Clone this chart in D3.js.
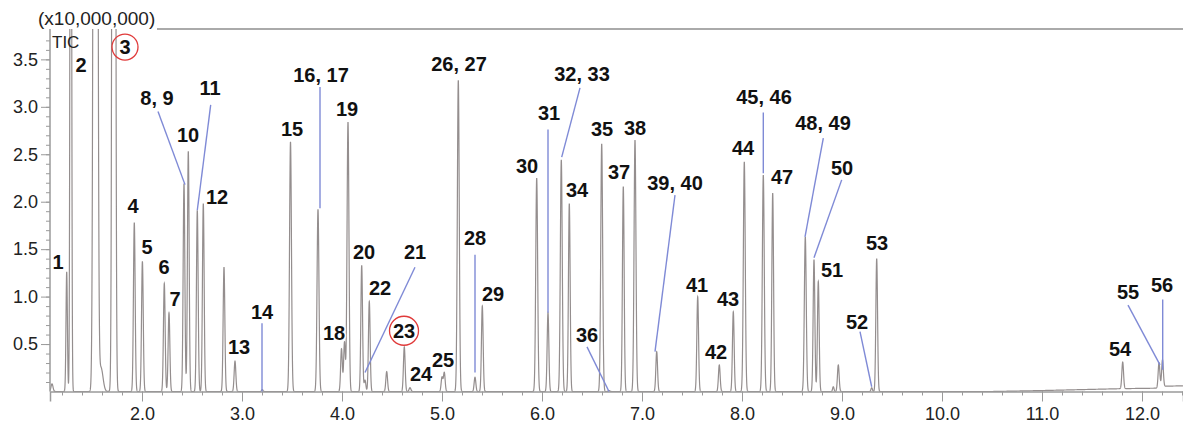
<!DOCTYPE html>
<html>
<head>
<meta charset="utf-8">
<script src="https://cdn.jsdelivr.net/npm/d3@7"></script>
<style>
  body { margin: 0; background: #fff; }
  svg { display: block; font-family: "Liberation Sans", Arial, sans-serif; }
</style>
</head>
<body>
<svg id="chart" width="1183" height="430"></svg>
<script>
// Peaks: retention time (min), height (x10,000,000), width (sigma, min)
const peakTimes = [1.10, 1.247, 1.288, 1.535, 1.59, 1.718, 1.923, 2.004, 2.223, 2.270,
    2.42, 2.463, 2.553, 2.613, 2.82, 2.93, 3.203, 3.485, 3.76, 3.995,
    4.025, 4.06, 4.197, 4.23, 4.273, 4.447, 4.623, 4.68, 5.00, 5.023,
    5.163, 5.33, 5.403, 5.947, 6.06, 6.193, 6.273, 6.597, 6.67, 6.813,
    6.93, 7.147, 7.557, 7.773, 7.913, 8.023, 8.213, 8.307, 8.633, 8.72,
    8.763, 8.913, 8.963, 9.297, 9.347, 11.807, 12.17, 12.205];
const peakHeights = [0.08, 1.26, 10, 30, 0.25, 30, 1.78, 1.37, 1.14, 0.83,
    2.19, 2.53, 1.91, 1.98, 1.31, 0.32, 0.02, 2.63, 1.92, 0.45,
    0.52, 2.84, 1.33, 0.12, 0.95, 0.21, 0.47, 0.04, 0.15, 0.2,
    3.28, 0.15, 0.9, 2.25, 0.83, 2.44, 1.98, 2.61, 0.01, 2.16,
    2.65, 0.42, 1.0, 0.28, 0.84, 2.42, 2.28, 2.09, 1.63, 1.39,
    1.16, 0.05, 0.28, 0.04, 1.40, 0.28, 0.26, 0.28];
const peakSigmas = [0.010, 0.007, 0.007, 0.0138, 0.02, 0.011, 0.0085, 0.0085, 0.0085, 0.0085,
    0.0085, 0.0085, 0.0085, 0.0085, 0.0085, 0.0085, 0.007, 0.0095, 0.0095, 0.0085,
    0.0085, 0.0095, 0.0085, 0.0085, 0.0085, 0.0085, 0.0085, 0.009, 0.0085, 0.0085,
    0.0095, 0.0085, 0.0085, 0.0095, 0.0085, 0.0095, 0.0085, 0.0095, 0.0085, 0.0085,
    0.0095, 0.0085, 0.0085, 0.0085, 0.0085, 0.0095, 0.0095, 0.0085, 0.0095, 0.0085,
    0.0085, 0.007, 0.0085, 0.007, 0.0085, 0.0085, 0.0085, 0.0085];

// Baseline drift read at a few points
const baselineTimes = [1.08, 10.5, 11.0, 11.8, 12.15, 12.2, 12.41];
const baselineValues = [0, 0, 0.01, 0.03, 0.035, 0.055, 0.06];

// Peak number labels (text centre in data units)
const labelTexts = ["1", "2", "3", "4", "5", "6", "7", "8, 9", "10", "11", "12", "13", "14", "15",
    "16, 17", "18", "19", "20", "21", "22", "23", "24", "25", "26, 27", "28", "29", "30", "31",
    "32, 33", "34", "35", "36", "37", "38", "39, 40", "41", "42", "43", "44", "45, 46", "47",
    "48, 49", "50", "51", "52", "53", "54", "55", "56"];
const labelTimes = [1.16, 1.39, 1.83, 1.91, 2.05, 2.22, 2.33, 2.15, 2.46, 2.68, 2.75, 2.97, 3.20, 3.50,
    3.79, 3.92, 4.05, 4.22, 4.73, 4.38, 4.62, 4.79, 5.01, 5.17, 5.33, 5.51, 5.85, 6.07,
    6.40, 6.35, 6.60, 6.45, 6.77, 6.93, 7.33, 7.55, 7.74, 7.86, 8.01, 8.22, 8.40,
    8.81, 9.00, 8.90, 9.15, 9.35, 11.78, 11.86, 12.20];
const labelValues = [1.36, 3.44, 3.63, 1.95, 1.52, 1.31, 0.97, 3.09, 2.70, 3.20, 2.05, 0.47, 0.84, 2.77,
    3.33, 0.62, 2.98, 1.47, 1.47, 1.09, 0.64, 0.18, 0.33, 3.45, 1.62, 1.03, 2.38, 2.93,
    3.35, 2.12, 2.77, 0.60, 2.31, 2.78, 2.20, 1.12, 0.42, 0.98, 2.57, 3.10, 2.26,
    2.83, 2.36, 1.28, 0.73, 1.57, 0.45, 1.05, 1.12];
const circledLabels = ["3", "23"];

// Leader lines from label to peak
const leaderT1 = [2.16, 2.687, 3.78, 3.20, 4.73, 5.33, 6.06, 6.38, 6.45, 7.33, 8.213, 8.813, 8.997, 9.18, 11.86, 12.207];
const leaderV1 = [2.95, 3.02, 3.21, 0.72, 1.31, 1.44, 2.76, 3.20, 0.47, 2.07, 2.94, 2.67, 2.23, 0.63, 0.91, 0.97];
const leaderT2 = [2.43, 2.553, 3.78, 3.20, 4.23, 5.33, 6.06, 6.197, 6.67, 7.13, 8.213, 8.63, 8.72, 9.297, 12.18, 12.207];
const leaderV2 = [2.18, 1.91, 1.93, 0.0, 0.2, 0.2, 0.83, 2.47, 0.0, 0.42, 2.3, 1.63, 1.41, 0.05, 0.28, 0.23];

const xTicks = [2, 3, 4, 5, 6, 7, 8, 9, 10, 11, 12];
const yTicks = [0.5, 1.0, 1.5, 2.0, 2.5, 3.0, 3.5];

const svg = d3.select("#chart");
const plotLeft = 50, plotRight = 1183, plotTop = 29, plotBottom = 391.5;

const x = d3.scaleLinear().domain([1.08, 12.41]).range([plotLeft, plotRight]);
const y = d3.scaleLinear().domain([0, 3.82]).range([plotBottom, plotTop]);

// Build the trace from the peak table
const baseline = d3.scaleLinear().domain(baselineTimes).range(baselineValues).clamp(true);
const peaks = peakTimes.map((t, i) => ({ t, h: peakHeights[i], s: peakSigmas[i] }));

function signal(t) {
    let v = baseline(t);
    peaks.forEach(p => {
        const d = t - p.t;
        if (Math.abs(d) < 8 * p.s) v += p.h * Math.exp(-d * d / (2 * p.s * p.s));
    });
    return v;
}

const times = d3.range(1.08, 12.41, 0.0005).concat(peakTimes).sort((a, b) => a - b);
const trace = times.map(t => [t, Math.min(signal(t), 4.2)]);

svg.append("clipPath").attr("id", "plot-clip")
    .append("rect").attr("x", plotLeft).attr("y", plotTop)
    .attr("width", plotRight - plotLeft).attr("height", plotBottom - plotTop + 2);

svg.append("path")
    .datum(trace)
    .attr("clip-path", "url(#plot-clip)")
    .attr("fill", "none")
    .attr("stroke", "#948e8e")
    .attr("stroke-width", 1.2)
    .attr("d", d3.line().x(d => x(d[0])).y(d => y(d[1])));

// Axes
const axisColor = "#9a9a9a";

const yMinor = svg.append("g").attr("transform", `translate(${plotLeft},0)`)
    .call(d3.axisLeft(y).tickValues(d3.range(1, 38).map(i => i / 10)).tickSize(4).tickFormat(""));
const yMajor = svg.append("g").attr("transform", `translate(${plotLeft},0)`)
    .call(d3.axisLeft(y).tickValues(yTicks).tickSize(9).tickPadding(3).tickFormat(d3.format(".1f")));

const xMinor = svg.append("g").attr("transform", `translate(0,${plotBottom})`)
    .call(d3.axisBottom(x).tickValues(d3.range(6, 63).map(i => i / 5)).tickSize(4).tickFormat(""));
const xMajor = svg.append("g").attr("transform", `translate(0,${plotBottom})`)
    .call(d3.axisBottom(x).tickValues(xTicks).tickSize(10).tickPadding(6).tickFormat(d3.format(".1f")));

[yMinor, yMajor, xMinor, xMajor].forEach(g => {
    g.select(".domain").attr("stroke", axisColor).attr("stroke-width", 1.5);
    g.selectAll(".tick line").attr("stroke", axisColor);
    g.selectAll("text").attr("fill", "#222").attr("font-size", 18).attr("font-family", "Liberation Sans, Arial, sans-serif");
});
yMajor.select(".domain").attr("d", `M0,${plotTop}V${plotBottom}`);
yMinor.select(".domain").remove();
xMinor.select(".domain").remove();

// Top frame line
svg.append("line")
    .attr("x1", 157).attr("x2", plotRight).attr("y1", plotTop).attr("y2", plotTop)
    .attr("stroke", "#aaaaaa").attr("stroke-width", 2);

svg.append("text").attr("x", 38).attr("y", 25).attr("font-size", 19).attr("fill", "#222")
    .text("(x10,000,000)");
svg.append("text").attr("x", 52).attr("y", 48).attr("font-size", 17).attr("fill", "#222")
    .text("TIC");

// Leader lines
svg.append("g").selectAll("line")
    .data(leaderT1)
    .enter()
    .append("line")
    .attr("x1", (d, i) => x(leaderT1[i]))
    .attr("y1", (d, i) => y(leaderV1[i]))
    .attr("x2", (d, i) => x(leaderT2[i]))
    .attr("y2", (d, i) => y(leaderV2[i]))
    .attr("stroke", "#7f8ad6")
    .attr("stroke-width", 1.4);

// Peak labels
svg.append("g").selectAll("text")
    .data(labelTexts)
    .enter()
    .append("text")
    .attr("x", (d, i) => x(labelTimes[i]))
    .attr("y", (d, i) => y(labelValues[i]))
    .attr("text-anchor", "middle")
    .attr("dominant-baseline", "central")
    .attr("font-size", 20)
    .attr("font-weight", "bold")
    .attr("fill", "#111")
    .attr("stroke", "#fff")
    .attr("stroke-width", 3)
    .attr("paint-order", "stroke")
    .text(d => d);

// Red circles on highlighted peaks
svg.append("g").selectAll("circle")
    .data(circledLabels)
    .enter()
    .append("circle")
    .attr("cx", d => x(labelTimes[labelTexts.indexOf(d)]))
    .attr("cy", d => y(labelValues[labelTexts.indexOf(d)]))
    .attr("r", d => d.length > 1 ? 14.5 : 13)
    .attr("fill", "none")
    .attr("stroke", "#e03a3a")
    .attr("stroke-width", 1.3);
</script>
</body>
</html>
